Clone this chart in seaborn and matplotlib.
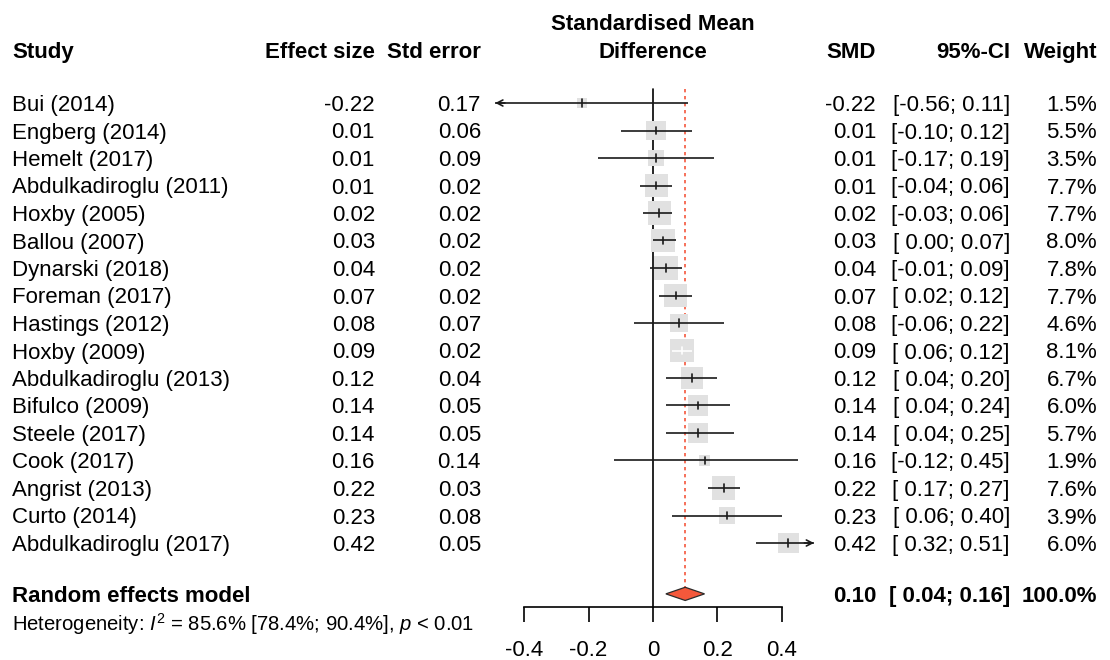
import numpy as np
import pandas as pd
import matplotlib
matplotlib.use("Agg")
import matplotlib.pyplot as plt
from matplotlib.transforms import blended_transform_factory
from matplotlib.patches import Polygon
import seaborn as sns

# ---- study-level data -------------------------------------------------
studies = ["Bui (2014)", "Engberg (2014)", "Hemelt (2017)", "Abdulkadiroglu (2011)",
           "Hoxby (2005)", "Ballou (2007)", "Dynarski (2018)", "Foreman (2017)",
           "Hastings (2012)", "Hoxby (2009)", "Abdulkadiroglu (2013)", "Bifulco (2009)",
           "Steele (2017)", "Cook (2017)", "Angrist (2013)", "Curto (2014)",
           "Abdulkadiroglu (2017)"]
effect = [-0.22, 0.01, 0.01, 0.01, 0.02, 0.03, 0.04, 0.07, 0.08, 0.09, 0.12,
          0.14, 0.14, 0.16, 0.22, 0.23, 0.42]
std_err = [0.17, 0.06, 0.09, 0.02, 0.02, 0.02, 0.02, 0.02, 0.07, 0.02, 0.04,
           0.05, 0.05, 0.14, 0.03, 0.08, 0.05]
ci_lo = [-0.56, -0.10, -0.17, -0.04, -0.03, 0.00, -0.01, 0.02, -0.06, 0.06,
         0.04, 0.04, 0.04, -0.12, 0.17, 0.06, 0.32]
ci_hi = [0.11, 0.12, 0.19, 0.06, 0.06, 0.07, 0.09, 0.12, 0.22, 0.12, 0.20,
         0.24, 0.25, 0.45, 0.27, 0.40, 0.51]
weight = [1.5, 5.5, 3.5, 7.7, 7.7, 8.0, 7.8, 7.7, 4.6, 8.1, 6.7, 6.0, 5.7,
          1.9, 7.6, 3.9, 6.0]

# ---- pooled estimate ----------------------------------------------------
re_label = "Random effects model"
re_smd = 0.10
re_lo = 0.04
re_hi = 0.16
re_weight = 100.0
het_text = r"Heterogeneity: $I^2$ = 85.6% [78.4%; 90.4%], $p$ < 0.01"

x_ticks = [-0.4, -0.2, 0.0, 0.2, 0.4]
x_tick_labels = ["-0.4", "-0.2", "0", "0.2", "0.4"]

df = pd.DataFrame({"study": studies, "effect": effect, "se": std_err,
                   "lo": ci_lo, "hi": ci_hi, "weight": weight})
df["row"] = np.arange(len(df))

# ---- style --------------------------------------------------------------
sns.set_theme(style="white")
plt.rcParams["font.family"] = ["Liberation Sans", "DejaVu Sans"]
plt.rcParams["mathtext.fontset"] = "custom"
plt.rcParams["mathtext.rm"] = "Liberation Sans"
plt.rcParams["mathtext.it"] = "Liberation Sans:italic"
plt.rcParams["axes.linewidth"] = 1.2

W, H, DPI = 1110, 660, 100
FS = 16
SQUARE_GREY = "#e1e1e1"
DIAMOND = "#f4583b"
REF_RED = "#f5573d"
LW = 1.2

fig = plt.figure(figsize=(W / DPI, H / DPI), dpi=DPI)
fig.patch.set_facecolor("white")

# forest panel: x from -0.5 to 0.5, rows counted downward
XMIN, XMAX = -0.5, 0.5
ROW_PX = 27.5
FIRST_ROW_PX = 103
AXIS_PX = 607
ax_left, ax_right = 492, 814
ax = fig.add_axes([ax_left / W, 1 - AXIS_PX / H, (ax_right - ax_left) / W, AXIS_PX / H])
ax.set_facecolor("none")
for side in ["top", "left", "right"]:
    ax.spines[side].set_visible(False)
ax.spines["bottom"].set_bounds(x_ticks[0], x_ticks[-1])
ax.spines["bottom"].set_color("black")
ax.set_yticks([])

model_row = 17.85
het_row = 18.82
diamond_half_h = 0.24
top_row = -0.5
y_bottom = (AXIS_PX - FIRST_ROW_PX) / ROW_PX
y_top = -FIRST_ROW_PX / ROW_PX

# zero line and pooled-estimate reference line
ax.plot([0, 0], [top_row, y_bottom], color="black", lw=LW, zorder=1, clip_on=False)
ax.plot([re_smd, re_smd], [top_row, model_row - diamond_half_h], color=REF_RED,
        lw=1.2, ls=(0, (2, 2.2)), zorder=1)

# weighted squares: area proportional to study weight
side_pt_per_sqrtw = 6.05
k = side_pt_per_sqrtw ** 2
sns.scatterplot(data=df, x="effect", y="row", size="weight",
                sizes=(k * min(weight), k * max(weight)),
                size_norm=(min(weight), max(weight)),
                marker="s", color=SQUARE_GREY, linewidth=0, legend=False,
                ax=ax, zorder=2)
ax.set_xlabel("")
ax.set_ylabel("")
ax.set_xlim(XMIN, XMAX)
ax.set_ylim(y_bottom, y_top)
ax.set_xticks(x_ticks)
ax.set_xticklabels(x_tick_labels, fontsize=FS)
ax.tick_params(axis="x", bottom=True, direction="out", length=10.8, width=LW,
               pad=13, colors="black")

# half-width of each square in data units (to decide on the inside colour)
px_per_unit = (ax_right - ax_left) / (XMAX - XMIN)
half_w = side_pt_per_sqrtw * np.sqrt(df["weight"]) * DPI / 72 / 2 / px_per_unit

tick_h = 0.13
for r in df.itertuples():
    inside = (r.lo > r.effect - half_w[r.Index]) and (r.hi < r.effect + half_w[r.Index])
    col = "white" if inside else "#1a1a1a"
    lo_c = max(r.lo, XMIN + 0.01)
    hi_c = min(r.hi, XMAX)
    ax.plot([lo_c, hi_c], [r.row, r.row], color=col, lw=LW, zorder=3,
            solid_capstyle="butt")
    ax.plot([r.effect, r.effect], [r.row - tick_h, r.row + tick_h], color=col,
            lw=LW, zorder=3)
    if r.lo < XMIN:
        ax.annotate("", xy=(lo_c, r.row), xytext=(lo_c + 0.03, r.row),
                    arrowprops=dict(arrowstyle="->,head_length=0.35,head_width=0.18",
                                    color=col, lw=LW, shrinkA=0, shrinkB=0),
                    zorder=3, annotation_clip=False)
    if r.hi > XMAX:
        ax.annotate("", xy=(hi_c, r.row), xytext=(hi_c - 0.03, r.row),
                    arrowprops=dict(arrowstyle="->,head_length=0.35,head_width=0.18",
                                    color=col, lw=LW, shrinkA=0, shrinkB=0),
                    zorder=3, annotation_clip=False)

# pooled diamond
ax.add_patch(Polygon([[re_lo, model_row], [re_smd, model_row - diamond_half_h],
                      [re_hi, model_row], [re_smd, model_row + diamond_half_h]],
                     closed=True, facecolor=DIAMOND, edgecolor="#2b2b2b", lw=0.9,
                     zorder=4))

# ---- text columns -------------------------------------------------------
tr = blended_transform_factory(fig.transFigure, ax.transData)
X_STUDY, X_EFF, X_SE, X_MID, X_SMD, X_CI, X_W = 12, 375, 481, 653, 876, 1010, 1097


def put(px, row, s, ha="right", bold=False, fs=FS):
    fig.text(px / W, 0, s, transform=tr, ha=ha, va="center_baseline",
             fontsize=fs, fontweight="bold" if bold else "normal", color="black")
    fig.texts[-1].set_position((px / W, row))


header_row = -1.93
put(X_STUDY, header_row, "Study", ha="left", bold=True)
put(X_EFF, header_row, "Effect size", bold=True)
put(X_SE, header_row, "Std error", bold=True)
put(X_MID, header_row - 1.0, "Standardised Mean", ha="center", bold=True)
put(X_MID, header_row, "Difference", ha="center", bold=True)
put(X_SMD, header_row, "SMD", bold=True)
put(X_CI, header_row, "95%-CI", bold=True)
put(X_W, header_row, "Weight", bold=True)

for r in df.itertuples():
    put(X_STUDY, r.row, r.study, ha="left")
    put(X_EFF, r.row, f"{r.effect:.2f}")
    put(X_SE, r.row, f"{r.se:.2f}")
    put(X_SMD, r.row, f"{r.effect:.2f}")
    put(X_CI, r.row, f"[{r.lo:5.2f};{r.hi:5.2f}]")
    put(X_W, r.row, f"{r.weight:.1f}%")

put(X_STUDY, model_row, re_label, ha="left", bold=True)
put(X_SMD, model_row, f"{re_smd:.2f}", bold=True)
put(X_CI, model_row, f"[{re_lo:5.2f};{re_hi:5.2f}]", bold=True)
put(X_W, model_row, f"{re_weight:.1f}%", bold=True)
put(X_STUDY, het_row, het_text, ha="left", fs=14.6)

fig.savefig("out.png", dpi=DPI, facecolor="white")
